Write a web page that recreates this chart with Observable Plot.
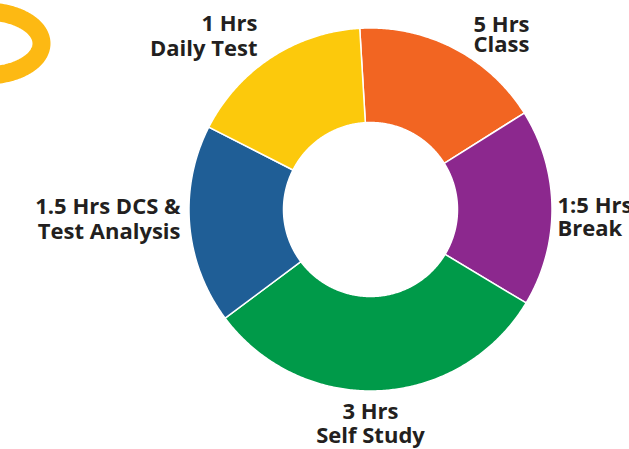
<!DOCTYPE html>
<html><head><meta charset="utf-8">
<script src="https://cdn.jsdelivr.net/npm/d3@7"></script>
<script src="https://cdn.jsdelivr.net/npm/@observablehq/plot@0.6"></script>
<style>html,body{margin:0;padding:0;background:#fff;overflow:hidden}</style>
</head><body><div id="chart"></div>
<script>
// ---- data ----
const categories = ["5 Hrs Class", "1:5 Hrs Break", "3 Hrs Self Study", "1.5 Hrs DCS & Test Analysis", "1 Hrs Daily Test"];
const labelText = ["5 Hrs\nClass", "1:5 Hrs\nBreak", "3 Hrs\nSelf Study", "1.5 Hrs DCS &\nTest Analysis", "1 Hrs\nDaily Test"];
const shares = [61.3, 63.1, 112.2, 63.8, 59.6]; // share of the ring (degrees)
const colors = ["#F26522", "#8C288E", "#009A49", "#1F5E96", "#FCC90C"];

// ---- layout ----
const W = 629, H = 449, CX = 370, CY = 209, R = 181.5;
const INNER = 87 / R;
const START = -3.4 * Math.PI / 180;
const FS = 22;
const ux = px => (px - CX) / R;
const uy = py => (CY - py) / R;

const arcs = d3.pie().sort(null).value(d => d).startAngle(START).endAngle(START + 2 * Math.PI)(shares);
const ring = [];
arcs.forEach((p, i) => {
  const span = p.endAngle - p.startAngle;
  const n = Math.max(2, Math.ceil(span / (Math.PI / 360)));
  for (let k = 0; k <= n; k++) {
    const a = p.startAngle + span * k / n;
    ring.push({cat: categories[i], x: Math.sin(a), y: Math.cos(a)});
  }
  for (let k = n; k >= 0; k--) {
    const a = p.startAngle + span * k / n;
    ring.push({cat: categories[i], x: INNER * Math.sin(a), y: INNER * Math.cos(a)});
  }
});

// label anchor x, last-line baseline, line spacing (px)
const labelLayout = {
  "5 Hrs Class": {anchor: "start", x: 473, base: 51.7, gap: 20.5},
  "1:5 Hrs Break": {anchor: "start", x: 557, base: 235, gap: 23},
  "3 Hrs Self Study": {anchor: "middle", x: 370, base: 442, gap: 24},
  "1.5 Hrs DCS & Test Analysis": {anchor: "end", x: 180, base: 238, gap: 25},
  "1 Hrs Daily Test": {anchor: "end", x: 257, base: 55, gap: 24.3}
};

const textMarks = categories.map((c, i) => {
  const L = labelLayout[c];
  return Plot.text([{t: labelText[i], x: ux(L.x), y: uy(L.base)}], {
    x: "x", y: "y", text: "t", textAnchor: L.anchor, lineAnchor: "bottom", lineHeight: L.gap / FS,
    fontSize: FS, fontWeight: 700, fontFamily: "'Open Sans', Lato, sans-serif", fill: "#231F20"
  });
});

// decorative logo fragment (top-left)
const logo = [];
for (let k = 0; k <= 90; k++) {
  const a = -Math.PI / 2 + Math.PI * k / 90;
  logo.push({x: ux(-15 + 56 * Math.cos(a)), y: uy(43 + 32 * Math.sin(a))});
}

const chart = Plot.plot({
  width: W, height: H, margin: 0,
  style: {background: "white", overflow: "hidden"},
  x: {domain: [ux(0), ux(W)], range: [0, W], axis: null},
  y: {domain: [uy(0), uy(H)], range: [0, H], axis: null},
  color: {domain: categories, range: colors},
  marks: [
    Plot.line(logo, {x: "x", y: "y", stroke: "#FDB913", strokeWidth: 18, clip: true}),
    Plot.line(ring, {x: "x", y: "y", z: "cat", fill: "cat", stroke: "white", strokeWidth: 1.5, curve: "linear-closed"}),
    ...textMarks
  ]
});
document.getElementById("chart").appendChild(chart);
</script>
</body></html>
